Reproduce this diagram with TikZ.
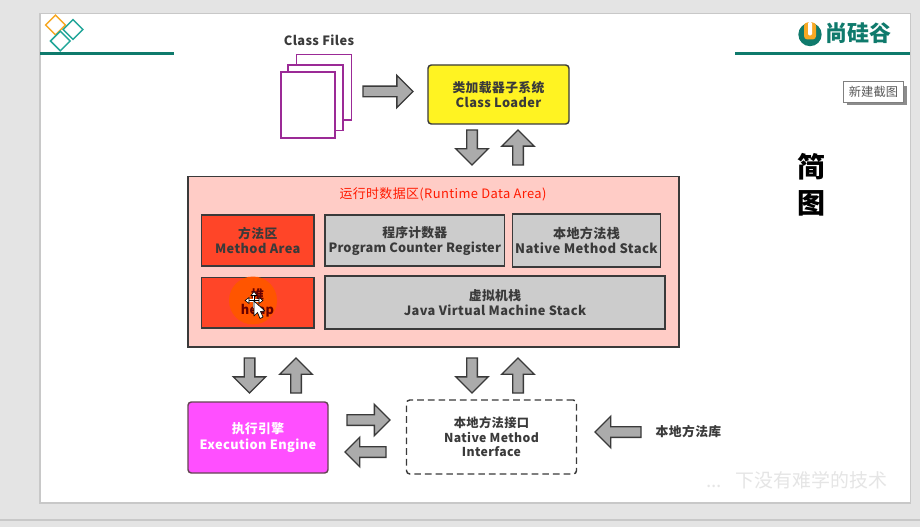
\documentclass[tikz,border=0pt]{standalone}
\usepackage{fontspec}
\setmainfont{Noto Sans CJK SC}
\newfontfamily\lab[LetterSpace=3]{Noto Sans CJK SC}
\newfontfamily\labtight[LetterSpace=1.5]{Noto Sans CJK SC}
\usetikzlibrary{shapes.arrows,shapes.geometric}
\definecolor{pagebg}{HTML}{E4E4E4}
\definecolor{edgegray}{HTML}{C8C8C8}
\definecolor{teal1}{HTML}{0F7A6C}
\definecolor{teal2}{HTML}{22A699}
\definecolor{orange1}{HTML}{F7A823}
\definecolor{ink}{HTML}{3A3A3A}
\definecolor{purp}{HTML}{9B2A96}
\definecolor{areafill}{HTML}{FFCCC6}
\definecolor{redfill}{HTML}{FF4528}
\definecolor{grayfill}{HTML}{CCCCCC}
\definecolor{yelfill}{HTML}{FFF322}
\definecolor{magfill}{HTML}{FF4FFF}
\definecolor{spotfill}{HTML}{FF5500}
\tikzset{
  x=0.75pt,y=-0.75pt,
  pxnode/.style={inner sep=0pt,outer sep=0pt,align=center,text=ink,font=\lab\bfseries\fontsize{9.6}{11.25}\selectfont},
  areabox/.style={pxnode,draw=ink,line width=1.1pt},
  roundbox/.style={areabox,rounded corners=2.5pt},
  page/.style={pxnode,draw=purp,fill=white,line width=1.1pt},
  blockarrow/.style={draw=ink,fill=black!33,line width=1pt,single arrow,inner sep=0pt,outer sep=0pt},
  diamondmark/.style={diamond,draw=#1,line width=1.1pt,inner sep=0pt,minimum width=15.2pt,minimum height=15.2pt,aspect=1},
  plain/.style={pxnode},
}
% name, x1, y1, x2, y2, style, text
\newcommand{\pxbox}[7]{%
  \node[#6,minimum width={(#4-#2)*0.75pt},minimum height={(#5-#3)*0.75pt}] (#1) at ({(#2+#4)/2},{(#3+#5)/2}) {#7};}
% name, cx, cy, rotation, length, head width
\newcommand{\barrow}[6]{%
  \node[blockarrow,rotate=#4,minimum height={#5*0.75pt},minimum width={#6*0.75pt},
    single arrow head extend={(#6*0.75pt-7pt)/2},anchor=tail]
    (#1) at ({#2-#5/2*cos(#4)},{#3+#5/2*sin(#4)}) {\rule{0pt}{7pt}};}
\begin{document}
\begin{tikzpicture}
\useasboundingbox (0,0) rectangle (920,527);
\fill[pagebg] (0,0) rectangle (920,527);
\draw[edgegray,line width=0.8pt] (0,520) -- (920,520);
\pxbox{slide}{40}{13.5}{910.5}{503}{draw=edgegray,fill=white,line width=0.9pt}{}
% header
\fill[teal1] (40,52) rectangle (174,55.5);
\fill[teal1] (735,52) rectangle (910,55.5);
\node[diamondmark=orange1] (d1) at (55.5,25) {};
\node[diamondmark=teal2] (d2) at (73,29.5) {};
\node[diamondmark=teal2] (d3) at (60.3,41) {};
% logo
\node[circle,fill=teal1,minimum size=17.5pt,inner sep=0pt] (logoc) at (810,34.5) {};
\fill[orange1,rounded corners=2.5pt] (804,22.5) rectangle (816,39.5);
\fill[white,rounded corners=1pt] (808,22) rectangle (812,35.5);
\node[plain,text=teal1,font=\bfseries\fontsize{16.5}{18}\selectfont] (logot) at (858.5,33) {尚硅谷};
% tooltip
\fill[black!45] (847,86) rectangle (907,105);
\pxbox{tip}{843.5}{81.5}{903.5}{102}{draw=black!50,fill=white,line width=0.7pt,text=black!65,inner sep=0pt,font=\fontsize{9.2}{11}\selectfont}{新建截图}
% title
\node[plain,text=black,font=\bfseries\fontsize{21}{27}\selectfont] (title) at (811,185) {简\\图};
% class files
\node[plain] (cf) at (319,40) {Class Files};
\pxbox{p3}{296.5}{54.5}{351.5}{120}{page}{}
\pxbox{p2}{288}{65}{343}{130.5}{page}{}
\pxbox{p1}{281}{72}{335}{138}{page}{}
\barrow{a1}{388}{91.5}{0}{50}{31}
% class loader
\pxbox{loader}{428}{65}{569}{124}{roundbox,fill=yelfill}{类加载器子系统\\Class Loader}
\barrow{a2}{472}{147.5}{-90}{35}{31}
\barrow{a3}{518}{147.5}{90}{35}{31}
% runtime area
\pxbox{area}{188}{176.5}{679}{347}{areabox,fill=areafill}{}
\node[plain,text=red!80!orange,font=\lab\fontsize{9.7}{12}\selectfont] (areat) at (443,194) {运行时数据区(Runtime Data Area)};
\pxbox{method}{201.5}{215}{314}{266}{areabox,fill=redfill}{方法区\\Method Area}
\pxbox{pc}{325}{215}{504.5}{266}{areabox,fill=grayfill,font=\labtight\bfseries\fontsize{9.6}{11.25}\selectfont}{程序计数器\\Program Counter Register}
\pxbox{native}{512.5}{214}{660.5}{267}{areabox,fill=grayfill,font=\lab\bfseries\fontsize{9.8}{11.25}\selectfont}{本地方法栈\\Native Method Stack}
\pxbox{heap}{201.5}{277.5}{314}{328}{areabox,fill=redfill}{}
\pxbox{jvm}{325}{276}{665}{329}{areabox,fill=grayfill}{虚拟机栈\\Java Virtual Machine Stack}
% highlight and cursor
\fill[orange1] (250,276.5) rectangle (256,277.5);
\node[circle,fill=spotfill,minimum size=36pt,inner sep=0pt] (spot) at (253,300.5) {};
\node[plain,text=black!60!red] (heapt) at (257.5,302.5) {堆\\heap};
\draw[white,line width=1.6pt] (247,300.5) -- (261,300.5) (254,293) -- (254,308);
\draw[black,line width=0.6pt] (247,300.5) -- (261,300.5) (254,293) -- (254,308);
\draw[black,fill=white,line width=0.4pt] (245,300.5) -- (249,297.5) -- (249,303.5) -- cycle;
\draw[black,fill=white,line width=0.4pt] (263,300.5) -- (259,297.5) -- (259,303.5) -- cycle;
\draw[black,fill=white,line width=0.4pt] (254,291.5) -- (251,295.5) -- (257,295.5) -- cycle;
\draw[black,fill=white,line width=0.5pt,line join=round] (254,301) -- (254,316) -- (257.5,312.5) -- (260,318.5) -- (263,317) -- (260.5,311.5) -- (265,311) -- cycle;
% lower arrows
\barrow{a4}{249.5}{375.5}{-90}{35}{31}
\barrow{a5}{296}{375.5}{90}{35}{31}
\barrow{a6}{472}{375.5}{-90}{35}{31}
\barrow{a7}{518}{375.5}{90}{35}{31}
% execution engine
\pxbox{engine}{188}{402}{328}{473}{draw=black!70!magenta,line width=1.1pt,rounded corners=2.5pt,fill=magfill,pxnode,text=white,font=\lab\bfseries\fontsize{9.6}{12}\selectfont}{执行引擎\\Execution Engine}
\barrow{a8}{368.5}{420}{0}{43}{30}
\barrow{a9}{365.5}{452}{180}{41}{28}
% native interface
\pxbox{jni}{406.5}{400}{576.5}{474}{roundbox,draw=ink,dash pattern=on 5pt off 3pt,fill=white,font=\lab\bfseries\fontsize{9.2}{11}\selectfont}{本地方法接口\\Native Method\\Interface}
\barrow{a10}{618}{432}{180}{46}{30}
\node[plain] (lib) at (688.5,432) {本地方法库};
% watermark
\node[plain,text=black!10,font=\fontsize{14.2}{16}\selectfont,anchor=east] (wm) at (887,480.5) {...\hspace{10pt}下没有难学的技术};
\end{tikzpicture}
\end{document}
